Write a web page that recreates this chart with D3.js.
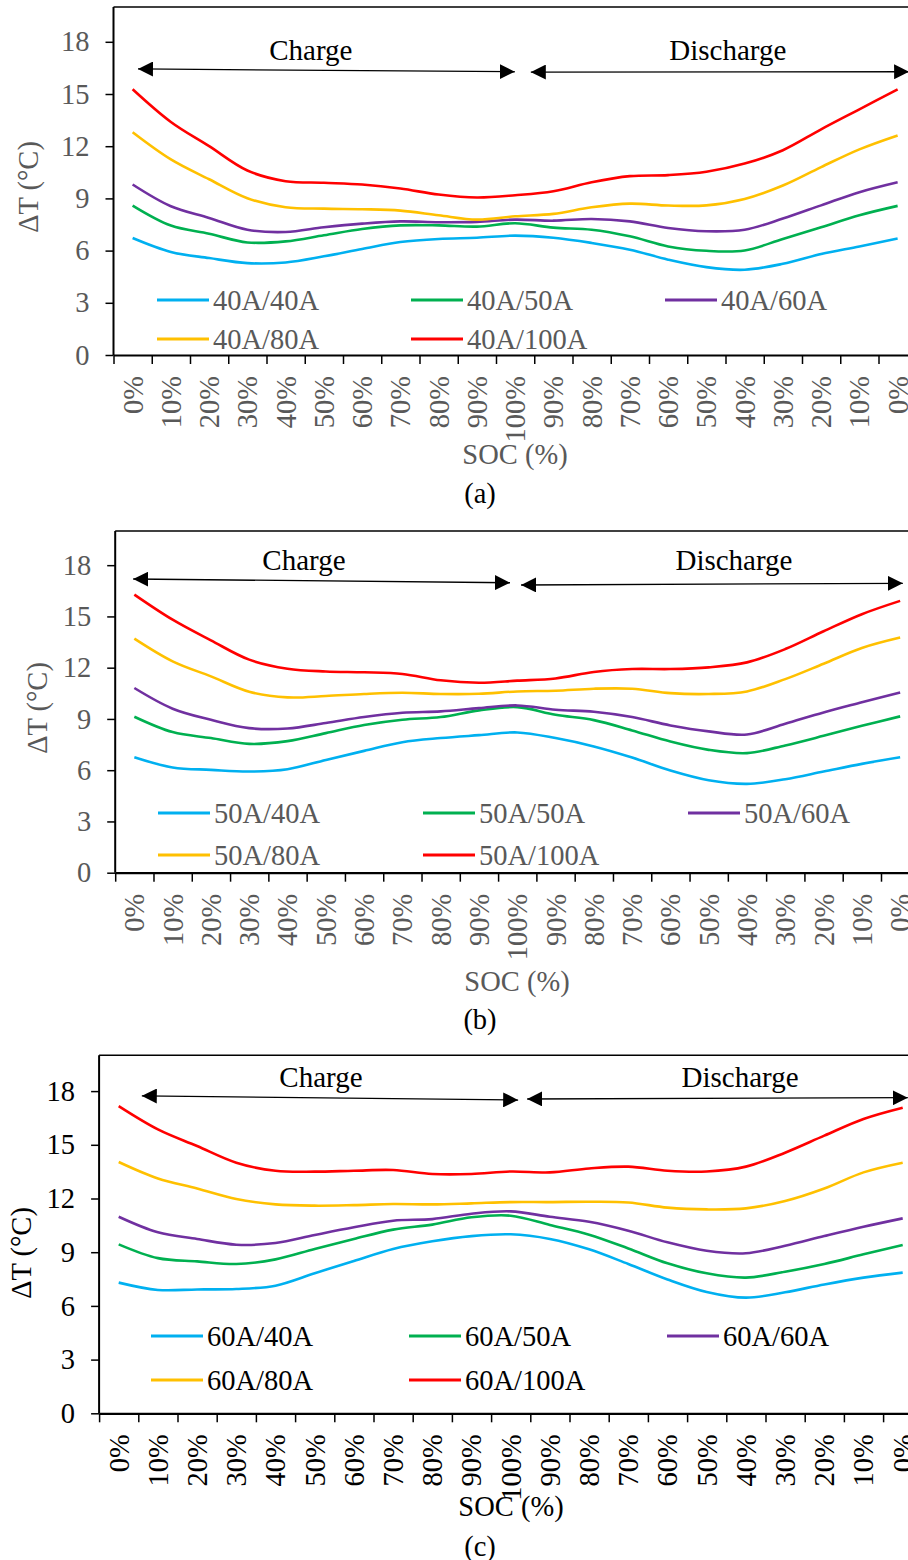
<!DOCTYPE html>
<html>
<head>
<meta charset="utf-8">
<script src="https://cdn.jsdelivr.net/npm/d3@7"></script>
<style>
  html, body { margin: 0; padding: 0; background: #fff; }
  svg { display: block; }
  text { font-family: "Liberation Serif", "Times New Roman", serif; }
</style>
</head>
<body>
<svg id="chart" width="908" height="1560"></svg>
<script>
// ---------- data ----------
const socLabels = ["0%","10%","20%","30%","40%","50%","60%","70%","80%","90%","100%",
                   "90%","80%","70%","60%","50%","40%","30%","20%","10%","0%"];
const yTicks = [0, 3, 6, 9, 12, 15, 18];
const seriesColors = ["#00B0F0", "#00B050", "#7030A0", "#FFC000", "#FF0000"];

const namesA = ["40A/40A", "40A/50A", "40A/60A", "40A/80A", "40A/100A"];
const a40 =  [6.72,5.92,5.57,5.28,5.32,5.67,6.09,6.49,6.67,6.74,6.86,6.74,6.44,6.05,5.48,5.05,4.90,5.24,5.80,6.24,6.70];
const a50 =  [8.59,7.44,6.97,6.47,6.53,6.88,7.24,7.45,7.45,7.38,7.57,7.32,7.20,6.82,6.24,5.99,6.01,6.67,7.34,8.03,8.57];
const a60 =  [9.80,8.55,7.88,7.20,7.07,7.34,7.55,7.68,7.63,7.65,7.78,7.72,7.82,7.68,7.30,7.11,7.20,7.84,8.60,9.36,9.93];
const a80 =  [12.80,11.24,10.10,9.01,8.49,8.41,8.38,8.30,8.03,7.78,7.97,8.11,8.49,8.70,8.59,8.60,8.97,9.74,10.80,11.82,12.62];
const a100 = [15.27,13.39,12.00,10.60,9.99,9.90,9.80,9.57,9.22,9.05,9.18,9.41,9.93,10.28,10.34,10.53,11.00,11.77,12.97,14.12,15.27];

const namesB = ["50A/40A", "50A/50A", "50A/60A", "50A/80A", "50A/100A"];
const b40 =  [6.76,6.16,6.02,5.92,6.06,6.60,7.13,7.64,7.88,8.05,8.21,7.88,7.39,6.74,5.98,5.41,5.20,5.47,5.92,6.37,6.76];
const b50 =  [9.13,8.23,7.88,7.54,7.70,8.17,8.64,8.95,9.11,9.50,9.69,9.24,8.93,8.33,7.68,7.19,7.00,7.45,8.01,8.60,9.15];
const b60 =  [10.81,9.60,8.95,8.46,8.44,8.76,9.11,9.36,9.44,9.63,9.79,9.54,9.42,9.11,8.62,8.27,8.09,8.72,9.38,9.97,10.55];
const b80 =  [13.70,12.37,11.49,10.59,10.26,10.34,10.46,10.53,10.46,10.47,10.61,10.65,10.77,10.77,10.51,10.46,10.61,11.33,12.23,13.15,13.76];
const b100 = [16.28,14.81,13.60,12.47,11.94,11.78,11.73,11.63,11.26,11.12,11.24,11.37,11.75,11.92,11.92,12.02,12.31,13.09,14.13,15.13,15.91];

const namesC = ["60A/40A", "60A/50A", "60A/60A", "60A/80A", "60A/100A"];
const c40 =  [7.30,6.89,6.92,6.94,7.13,7.82,8.51,9.18,9.61,9.90,10.00,9.74,9.16,8.34,7.48,6.78,6.46,6.76,7.20,7.58,7.86];
const c50 =  [9.44,8.67,8.49,8.34,8.60,9.18,9.74,10.26,10.54,10.95,11.04,10.52,9.98,9.21,8.38,7.82,7.58,7.91,8.34,8.88,9.40];
const c60 =  [10.98,10.11,9.74,9.42,9.51,9.96,10.39,10.76,10.85,11.15,11.28,10.98,10.70,10.20,9.55,9.08,8.94,9.36,9.90,10.42,10.89];
const c80 =  [14.04,13.12,12.56,11.97,11.67,11.60,11.63,11.69,11.67,11.73,11.80,11.80,11.82,11.78,11.49,11.39,11.45,11.86,12.56,13.46,14.00];
const c100 = [17.16,15.86,14.93,14.00,13.55,13.50,13.55,13.59,13.37,13.37,13.51,13.46,13.68,13.78,13.55,13.51,13.78,14.56,15.51,16.44,17.07];

// annotation anchors in data units: [fromIndex, fromValue, toIndex, toValue]
const chargeArrows    = [[0.14, 16.44, 9.99, 16.28], [-0.03, 17.19, 9.81, 16.97], [0.59, 17.73, 10.19, 17.50]];
const dischargeArrows = [[10.41, 16.26, 20.30, 16.28], [10.10, 16.84, 20.07, 16.94], [10.42, 17.56, 20.13, 17.63]];
const chargeText    = [[4.66, 16.95], [4.43, 17.72], [5.16, 18.23]];
const dischargeText = [[15.56, 16.95], [15.66, 17.72], [15.85, 18.23]];

// ---------- layout ----------
const panels = [
  { series: [a40, a50, a60, a80, a100], names: namesA, left: 113.5, step: 38.25, top: 7, bottom: 355,
    textColor: "#595959", yTitle: [28, 187], xTitle: [515, 454], caption: "(a)", capY: 493,
    legX: [157, 411, 665], legY: [300, 339] },
  { series: [b40, b50, b60, b80, b100], names: namesB, left: 115.2, step: 38.29, top: 531, bottom: 872.7,
    textColor: "#595959", yTitle: [37.5, 708], xTitle: [517, 981], caption: "(b)", capY: 1019,
    legX: [158, 423, 688], legY: [813, 855] },
  { series: [c40, c50, c60, c80, c100], names: namesC, left: 99.1, step: 39.2, top: 1055.3, bottom: 1413.3,
    textColor: "#000000", yTitle: [21, 1253], xTitle: [511, 1506], caption: "(c)", capY: 1546,
    legX: [151, 409, 667], legY: [1336, 1380] }
];

const svg = d3.select("#chart");
const defs = svg.append("defs");
defs.append("marker")
  .attr("id", "arrowhead")
  .attr("viewBox", "0 0 15 15")
  .attr("markerUnits", "userSpaceOnUse")
  .attr("markerWidth", 15).attr("markerHeight", 15)
  .attr("refX", 15).attr("refY", 7.5)
  .attr("orient", "auto-start-reverse")
  .append("path").attr("d", "M0,0 L15,7.5 L0,15 Z").attr("fill", "#000");

const FS = 28.5;

panels.forEach((p, pi) => {
  const right = p.left + p.step * socLabels.length;
  const g = svg.append("g");

  const x = d3.scaleBand().domain(d3.range(socLabels.length)).range([p.left, right]).padding(0);
  const xi = d3.scaleLinear().domain([-0.5, socLabels.length - 0.5]).range([p.left, right]);
  const y = d3.scaleLinear().domain([0, 20]).range([p.bottom, p.top]);

  // frame (top border)
  g.append("line").attr("x1", p.left).attr("x2", right).attr("y1", p.top).attr("y2", p.top)
    .attr("stroke", "#000").attr("stroke-width", 1.5);

  // y axis
  const yAxis = g.append("g").attr("transform", `translate(${p.left},0)`)
    .call(d3.axisLeft(y).tickValues(yTicks).tickSize(8).tickSizeOuter(0).tickPadding(16));
  yAxis.select(".domain").attr("stroke", "#000").attr("stroke-width", 2)
    .attr("d", `M0,${p.top}V${p.bottom}`);
  yAxis.selectAll(".tick line").attr("stroke", "#000").attr("stroke-width", 1.5);
  yAxis.selectAll(".tick text").attr("fill", p.textColor).style("font-size", FS + "px")
    .style("font-family", '"Liberation Serif", "Times New Roman", serif');

  // x axis (ticks between categories)
  const xAxis = g.append("g").attr("transform", `translate(0,${p.bottom})`)
    .call(d3.axisBottom(xi).tickValues(d3.range(-0.5, socLabels.length, 1)).tickSize(9)
      .tickSizeOuter(0).tickFormat(""));
  xAxis.select(".domain").attr("stroke", "#000").attr("stroke-width", 2.2);
  xAxis.selectAll(".tick line").attr("stroke", "#000").attr("stroke-width", 1.5);

  // x labels (rotated)
  g.append("g").selectAll("text").data(socLabels).join("text")
    .attr("transform", (d, i) => `translate(${x(i) + x.bandwidth() / 2},${p.bottom + 21}) rotate(-90)`)
    .attr("text-anchor", "end").attr("dy", "0.35em")
    .attr("fill", p.textColor).style("font-size", FS + "px")
    .text(d => d);

  // axis titles
  g.append("text").attr("transform", `translate(${p.yTitle[0]},${p.yTitle[1]}) rotate(-90)`)
    .attr("text-anchor", "middle").attr("dy", "0.35em").attr("fill", p.textColor)
    .style("font-size", FS + "px").text("ΔT (°C)");
  g.append("text").attr("x", p.xTitle[0]).attr("y", p.xTitle[1])
    .attr("text-anchor", "middle").attr("dy", "0.35em").attr("fill", p.textColor)
    .style("font-size", FS + "px").text("SOC (%)");
  g.append("text").attr("x", 480).attr("y", p.capY)
    .attr("text-anchor", "middle").attr("dy", "0.35em").attr("fill", "#000")
    .style("font-size", FS + "px").text(p.caption);

  // series lines
  const line = d3.line().x((d, i) => x(i) + x.bandwidth() / 2).y(d => y(d))
    .curve(d3.curveCatmullRom.alpha(0.5));
  g.append("g").selectAll("path").data(p.series).join("path")
    .attr("d", line).attr("fill", "none")
    .attr("stroke", (d, i) => seriesColors[i]).attr("stroke-width", 2.6)
    .attr("stroke-linejoin", "round");

  // arrows
  [chargeArrows[pi], dischargeArrows[pi]].forEach(a => {
    g.append("line")
      .attr("x1", xi(a[0])).attr("y1", y(a[1])).attr("x2", xi(a[2])).attr("y2", y(a[3]))
      .attr("stroke", "#000").attr("stroke-width", 1.3)
      .attr("marker-start", "url(#arrowhead)").attr("marker-end", "url(#arrowhead)");
  });
  g.append("text").attr("x", xi(chargeText[pi][0])).attr("y", y(chargeText[pi][1]))
    .attr("text-anchor", "middle").attr("fill", "#000").style("font-size", "29px").text("Charge");
  g.append("text").attr("x", xi(dischargeText[pi][0])).attr("y", y(dischargeText[pi][1]))
    .attr("text-anchor", "middle").attr("fill", "#000").style("font-size", "29px").text("Discharge");

  // legend
  const leg = g.append("g");
  p.names.forEach((name, i) => {
    const lx = p.legX[i % 3], ly = p.legY[Math.floor(i / 3)];
    leg.append("line").attr("x1", lx).attr("x2", lx + 52).attr("y1", ly).attr("y2", ly)
      .attr("stroke", seriesColors[i]).attr("stroke-width", 3);
    leg.append("text").attr("x", lx + 56).attr("y", ly).attr("dy", "0.35em")
      .attr("fill", p.textColor).style("font-size", FS + "px").text(name);
  });
});
</script>
</body>
</html>
